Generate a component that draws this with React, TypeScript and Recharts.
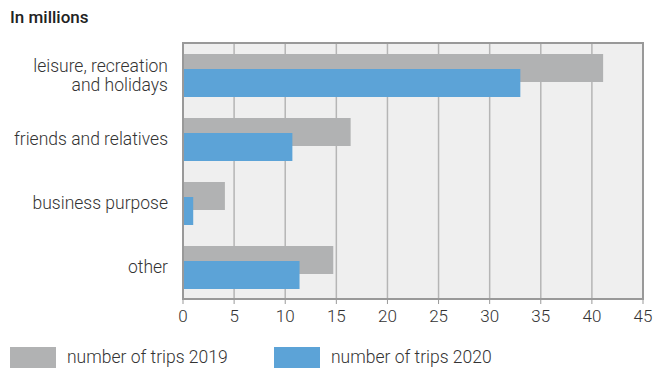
import React from 'react';
import { BarChart, Bar, XAxis, YAxis, CartesianGrid, ReferenceArea } from 'recharts';

const categories = ['leisure, recreation\nand holidays', 'friends and relatives', 'business purpose', 'other'];
const trips2019 = [41.1, 16.4, 4.1, 14.7];
const trips2020 = [33.0, 10.7, 1.0, 11.4];
const xTicks = [0, 5, 10, 15, 20, 25, 30, 35, 40, 45];

const data = categories.map((c, i) => ({ category: c, y2019: trips2019[i], y2020: trips2020[i] }));

const GRAY = '#b1b2b3';
const BLUE = '#5ca3d7';
const FONT = 'Roboto, sans-serif';

const CategoryTick = (props: any) => {
    const { x, y, payload } = props;
    const lines = String(payload.value).split('\n');
    const start = -((lines.length - 1) * 19) / 2;
    return (
        <text x={x} y={y} textAnchor="end" fill="#333" fontSize={17.5} fontWeight={300} fontFamily={FONT}>
            {lines.map((l, i) => (
                <tspan key={i} x={x} dy={i === 0 ? start + 6 : 19}>{l}</tspan>
            ))}
        </text>
    );
};

export default function App() {
    return <div style={{ position: 'absolute', left: 0, top: 0, width: 666, height: 369, background: '#fff', fontFamily: FONT }}>
        <div style={{ position: 'absolute', left: 10, top: 7, fontSize: 17, fontWeight: 500, color: '#222' }}>In millions</div>
        <BarChart width={666} height={369} data={data} layout="vertical" barSize={28} barGap={-13}
            margin={{ top: 43, right: 23, left: 0, bottom: 0 }}>
            <CartesianGrid horizontal={false} fill="#efefef" stroke="#b5b5b5" strokeWidth={1.5} />
            <XAxis type="number" domain={[0, 45]} ticks={xTicks} height={70} interval={0}
                stroke="#999" tickSize={5} tickMargin={6}
                tick={{ fill: '#333', fontSize: 17, fontWeight: 300, fontFamily: FONT }} />
            <YAxis type="category" dataKey="category" width={183} tickLine={false} axisLine={{ stroke: '#999', strokeWidth: 2 }}
                tickMargin={9} tick={<CategoryTick />} />
            <Bar dataKey="y2019" fill={GRAY} isAnimationActive={false} />
            <Bar dataKey="y2020" fill={BLUE} isAnimationActive={false} />
            <ReferenceArea x1={0} x2={45} fill="none" stroke="#999" strokeWidth={2} ifOverflow="visible" />
        </BarChart>
        <div style={{ position: 'absolute', left: 10, top: 347, width: 46, height: 21, background: GRAY }} />
        <div style={{ position: 'absolute', left: 67, top: 347, lineHeight: '21px', fontSize: 17.5, fontWeight: 300, color: '#333' }}>number of trips 2019</div>
        <div style={{ position: 'absolute', left: 274, top: 347, width: 46, height: 21, background: BLUE }} />
        <div style={{ position: 'absolute', left: 331, top: 347, lineHeight: '21px', fontSize: 17.5, fontWeight: 300, color: '#333' }}>number of trips 2020</div>
    </div>
}
